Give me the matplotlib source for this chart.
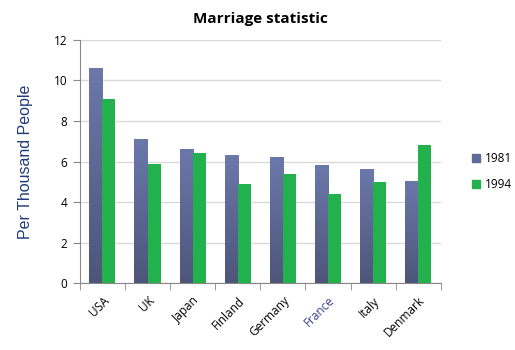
import numpy as np
import matplotlib
matplotlib.use('Agg')
import matplotlib.pyplot as plt
from matplotlib.colors import LinearSegmentedColormap

countries = ['USA', 'UK', 'Japan', 'Finland', 'Germany', 'France', 'Italy', 'Denmark']
rate_1981 = [10.6, 7.1, 6.6, 6.3, 6.2, 5.8, 5.6, 5.0]
rate_1994 = [9.1, 5.9, 6.4, 4.9, 5.4, 4.4, 5.0, 6.8]
years = ['1981', '1994']

plt.rcParams['font.family'] = ['Open Sans', 'DejaVu Sans']

blue_cmap = LinearSegmentedColormap.from_list('bl', ['#4d5579', '#6b78aa'])
green = '#22b14c'

fig = plt.figure(figsize=(5.15, 3.5), dpi=100)
ax = fig.add_axes([0.155, 0.191, 0.701, 0.695])

x = np.arange(len(countries))
w = 0.29

# gradient bars for 1981
grad = np.linspace(0, 1, 256).reshape(-1, 1)
for xi, v in zip(x, rate_1981):
    ax.imshow(grad, cmap=blue_cmap, aspect='auto', origin='lower',
              extent=[xi - w, xi, 0, v], zorder=3)
b1 = ax.bar(x - w / 2, rate_1981, w, color='#5f6a98', label=years[0], zorder=2)
b2 = ax.bar(x + w / 2, rate_1994, w, color=green, label=years[1], zorder=3)

ax.set_xlim(-0.5, len(countries) - 0.5)
ax.set_ylim(0, 12)
ax.set_yticks(range(0, 13, 2))
ax.set_xticks(x)
ax.set_xticklabels(countries, rotation=45, ha='right', rotation_mode='anchor', fontsize=8.5)
ax.tick_params(axis='x', length=0, pad=8)
ax.set_xticks(np.arange(-0.5, len(countries), 1), minor=True)
ax.tick_params(axis='x', which='minor', length=5, color='#888888', direction='out')
ax.tick_params(axis='y', length=5, color='#888888', labelsize=8.5, pad=4)
ax.get_xticklabels()[5].set_color('#3a3f8f')

ax.yaxis.grid(True, color='#d9d9d9', linewidth=1)
ax.set_axisbelow(True)
for s in ['top', 'right']:
    ax.spines[s].set_visible(False)
for s in ['left', 'bottom']:
    ax.spines[s].set_color('#888888')

ax.set_ylabel('Per Thousand People', fontsize=11.5, color='#1f3c78', labelpad=15,
              family=['Liberation Sans', 'DejaVu Sans'])
ax.set_title('Marriage statistic', fontsize=11, fontweight='bold', pad=12)

h1 = plt.Rectangle((0, 0), 1, 1, color='#5f6a98')
h2 = plt.Rectangle((0, 0), 1, 1, color=green)
fig.legend([h1, h2], years, loc='center left', bbox_to_anchor=(0.895, 0.51),
           frameon=False, fontsize=8.5, handlelength=0.7, handleheight=0.7,
           handletextpad=0.4, labelspacing=1.1)

plt.savefig('out.png', dpi=100)
